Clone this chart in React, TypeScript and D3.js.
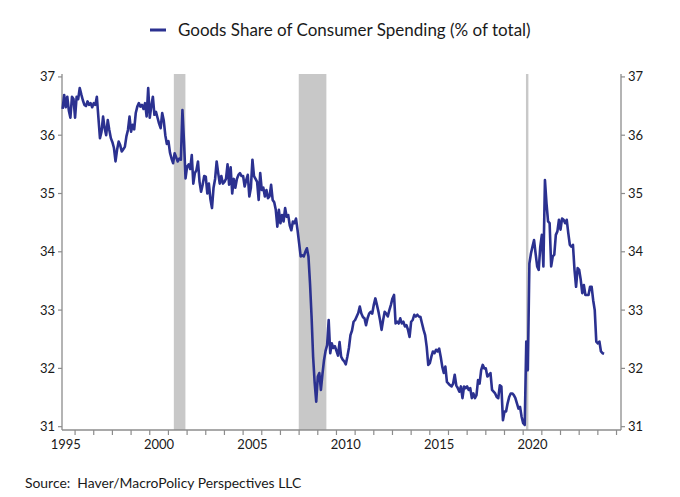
import React from "react";
import * as d3 from "d3";

// Monthly goods share of consumer spending (% of total), May 1995 .. May 2024
const startYear = 1995;
const startMonth = 5; // May
const values: number[] = [
  // 1995 (May-Dec)
  36.45, 36.69, 36.48, 36.66, 36.42, 36.3, 36.66, 36.62,
  // 1996
  36.3, 36.66, 36.62, 36.81, 36.7, 36.6, 36.52, 36.5, 36.58, 36.52, 36.55, 36.48,
  // 1997
  36.55, 36.52, 36.66, 36.3, 35.95, 36.06, 36.32, 36.12, 36.0, 36.26, 36.09, 35.95,
  // 1998
  35.88, 35.78, 35.55, 35.75, 35.89, 35.83, 35.72, 35.76, 35.8, 35.98, 36.09, 36.32,
  // 1999
  36.06, 36.18, 36.1, 36.38, 36.49, 36.55, 36.49, 36.52, 36.45, 36.55, 36.32, 36.81,
  // 2000
  36.3, 36.5, 36.66, 36.35, 36.4, 36.3, 36.2, 36.12, 36.38, 36.25, 36.0, 35.85,
  // 2001
  35.9, 35.7, 35.6, 35.52, 35.69, 35.62, 35.55, 35.6, 35.58, 36.43, 35.9, 35.26,
  // 2002
  35.46, 35.5, 35.42, 35.66, 35.17, 35.35, 35.4, 35.55, 35.2, 35.03, 35.15, 35.3,
  // 2003
  35.29, 35.0, 35.17, 34.9, 34.75, 35.1, 35.25, 35.55, 35.35, 35.17, 35.3, 35.17,
  // 2004
  35.2, 35.25, 35.5, 35.15, 35.45, 35.0, 35.25, 35.1, 35.25, 35.32, 35.35, 35.3,
  // 2005
  35.3, 35.12, 35.23, 35.32, 34.95, 35.1, 35.58, 35.3, 35.25, 35.2, 34.89, 35.35,
  // 2006
  35.06, 35.1, 34.95, 35.06, 34.92, 34.95, 35.15, 34.89, 34.85, 34.72, 34.43, 34.72,
  // 2007
  34.49, 34.63, 34.52, 34.75, 34.6, 34.63, 34.45, 34.37, 34.52, 34.49, 34.57, 34.37,
  // 2008
  34.15, 33.92, 33.94, 33.92, 34.0, 34.06, 33.92, 33.46, 32.89, 32.2, 31.75, 31.43,
  // 2009
  31.86, 31.92, 31.63, 31.9, 32.14, 32.3, 32.4, 32.83, 32.26, 32.43, 32.35, 32.38,
  // 2010
  32.3, 32.22, 32.45, 32.2, 32.15, 32.12, 32.07, 32.2, 32.35, 32.57, 32.65, 32.8,
  // 2011
  32.83, 32.89, 32.95, 33.06, 32.94, 32.88, 32.86, 32.74, 32.86, 32.94, 32.97, 32.94,
  // 2012
  33.09, 33.2, 33.09, 32.97, 32.83, 32.66, 32.83, 32.97, 32.94, 32.89, 33.0, 33.09,
  // 2013
  33.2, 33.26, 32.77, 32.8, 32.77, 32.86, 32.77, 32.8, 32.72, 32.74, 32.66, 32.54,
  // 2014
  32.8, 32.83, 32.92, 32.89, 32.92, 32.89, 32.88, 32.77, 32.66, 32.57, 32.37, 32.06,
  // 2015
  32.09, 32.2, 32.29, 32.26, 32.32, 32.29, 32.34, 32.2, 32.03, 31.92, 32.03, 31.77,
  // 2016
  31.74, 31.71, 31.69, 31.74, 31.89, 31.71, 31.66, 31.6, 31.69, 31.49, 31.69, 31.66,
  // 2017
  31.69, 31.63, 31.66, 31.49, 31.57, 31.49, 31.54, 31.8, 31.74, 31.97, 32.06, 32.0,
  // 2018
  32.0, 31.86, 31.89, 31.92, 31.63, 31.6, 31.57, 31.51, 31.49, 31.71, 31.69, 31.11,
  // 2019
  31.26, 31.26, 31.4, 31.51, 31.57, 31.57, 31.54, 31.49, 31.4, 31.31, 31.34, 31.17,
  // 2020
  31.06, 31.03, 32.46, 31.97, 33.8, 33.97, 34.09, 34.2, 33.97, 33.75, 33.69, 34.09,
  // 2021
  34.29, 33.75, 35.23, 34.83, 34.52, 34.49, 33.75, 33.92, 33.95, 34.29, 34.35, 34.55,
  // 2022
  34.38, 34.57, 34.55, 34.49, 34.55, 34.32, 34.12, 34.09, 34.12, 33.69, 33.4, 33.72,
  // 2023
  33.69, 33.52, 33.29, 33.43, 33.26, 33.26, 33.26, 33.4, 33.4, 33.17, 33.0, 32.46,
  // 2024 (Jan-May)
  32.43, 32.46, 32.29, 32.26, 32.25,
];

// Recession periods (decimal years)
const recessionStart: number[] = [2001.29, 2007.98, 2020.15];
const recessionEnd: number[] = [2001.91, 2009.46, 2020.28];

const yTicks: number[] = [31, 32, 33, 34, 35, 36, 37];
const xTickYears: number[] = d3.range(1996, 2026);
const xLabelYears: number[] = [1995, 2000, 2005, 2010, 2015, 2020];

const seriesName = "Goods Share of Consumer Spending (% of total)";
const sourceText = "Source:  Haver/MacroPolicy Perspectives LLC";

const W = 680;
const H = 497;
const left = 62;
const right = 621;
const top = 74;
const bottom = 430;

export default function App() {
  const x = d3.scaleLinear().domain([1995.3, 2025.24]).range([left, right]);
  const y = d3.scaleLinear().domain([30.943, 37.05]).range([bottom, top]);

  const data = values.map((v, i) => ({
    t: startYear + (startMonth - 1 + i) / 12,
    v,
  }));

  const line = d3
    .line<{ t: number; v: number }>()
    .x((d) => x(d.t))
    .y((d) => y(d.v));

  const axisColor = "#8c8c8c";
  const font = "Lato, 'Open Sans', sans-serif";
  const textColor = "#1a1a1a";

  return (
    <svg
      width={W}
      height={H}
      style={{ position: "absolute", left: 0, top: 0, background: "#fff" }}
      fontFamily={font}
    >
      <rect width={W} height={H} fill="#fff" />
      {/* recession bars */}
      {recessionStart.map((s, i) => (
        <rect
          key={"r" + i}
          x={x(s)}
          y={top}
          width={x(recessionEnd[i]) - x(s)}
          height={bottom - top}
          fill="#c8c8c8"
        />
      ))}
      {/* axes */}
      <line x1={left} x2={left} y1={top} y2={bottom} stroke={axisColor} strokeWidth={1.3} />
      <line x1={right} x2={right} y1={top} y2={bottom} stroke={axisColor} strokeWidth={1.3} />
      <line x1={left} x2={right} y1={bottom} y2={bottom} stroke={axisColor} strokeWidth={1.3} />
      {yTicks.map((t) => (
        <g key={"y" + t}>
          <line x1={left - 4} x2={left} y1={y(t)} y2={y(t)} stroke={axisColor} strokeWidth={1.2} />
          <line x1={right} x2={right + 4} y1={y(t)} y2={y(t)} stroke={axisColor} strokeWidth={1.2} />
          <text x={left - 7} y={y(t)} dy="0.35em" textAnchor="end" fontSize={13} fill={textColor}>
            {t}
          </text>
          <text x={right + 7} y={y(t)} dy="0.35em" textAnchor="start" fontSize={13} fill={textColor}>
            {t}
          </text>
        </g>
      ))}
      {xTickYears.map((yr) => (
        <line
          key={"xt" + yr}
          x1={x(yr)}
          x2={x(yr)}
          y1={bottom}
          y2={bottom + 5}
          stroke={axisColor}
          strokeWidth={1.2}
        />
      ))}
      {xLabelYears.map((yr) => (
        <text
          key={"xl" + yr}
          x={x(yr + 0.5)}
          y={449}
          textAnchor="middle"
          fontSize={13}
          fill={textColor}
        >
          {yr}
        </text>
      ))}
      {/* series */}
      <path d={line(data) || ""} fill="none" stroke="#2b3190" strokeWidth={2.6} strokeLinejoin="round" />
      {/* legend */}
      <line x1={150} x2={166} y1={30} y2={30} stroke="#2b3190" strokeWidth={3} />
      <text x={178} y={35.5} fontSize={17} fill={textColor}>
        {seriesName}
      </text>
      {/* source */}
      <text x={25} y={488} fontSize={13.9} fill={textColor} xmlSpace="preserve" style={{ whiteSpace: "pre" }}>
        {sourceText}
      </text>
    </svg>
  );
}
